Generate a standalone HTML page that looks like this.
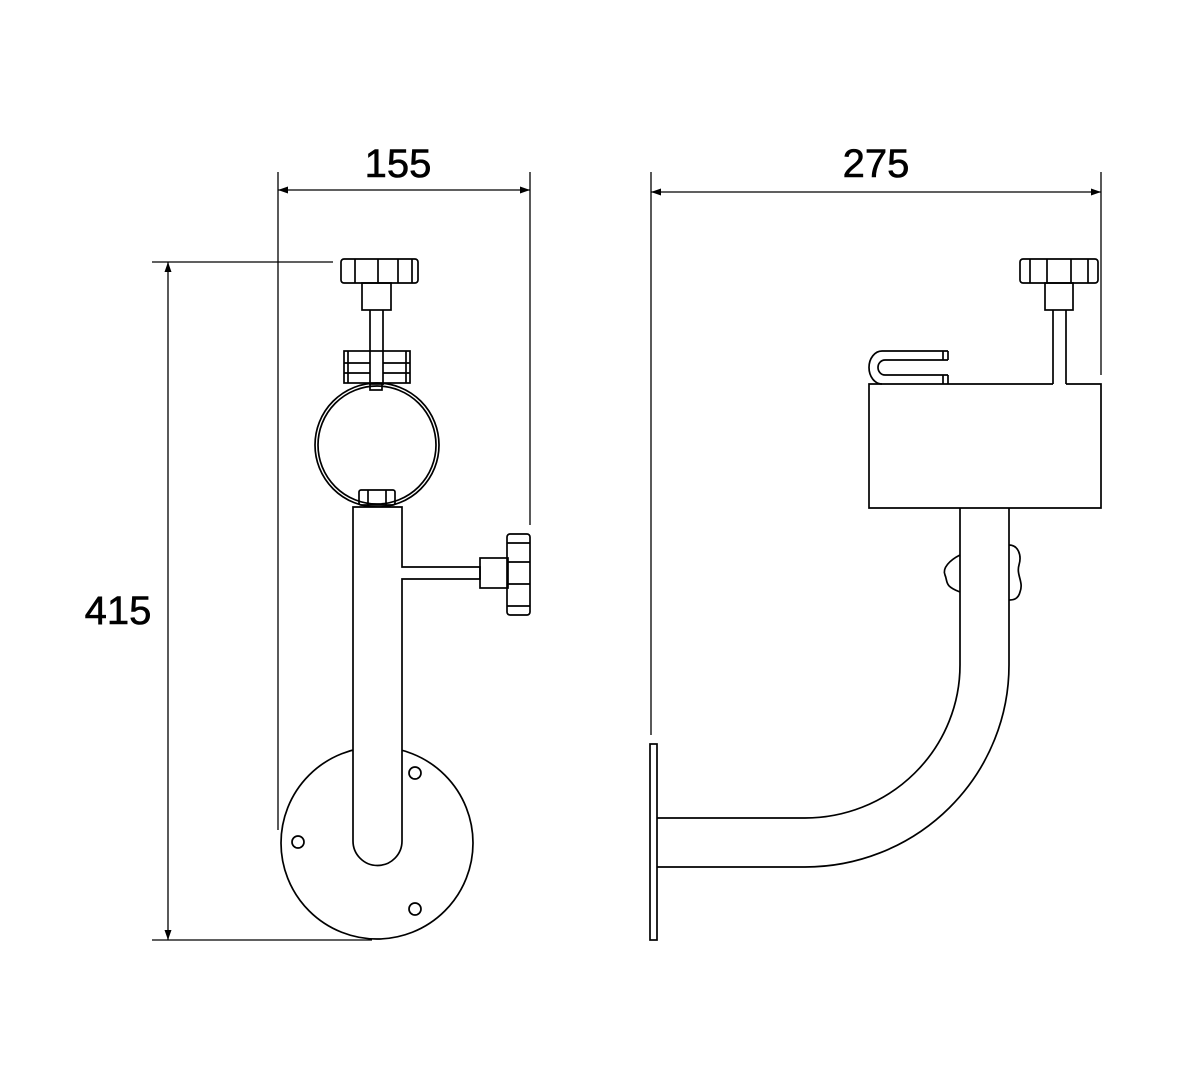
<!DOCTYPE html>
<html><head><style>html,body{margin:0;padding:0;background:#fff}</style></head>
<body>
<svg width="1200" height="1080" viewBox="0 0 1200 1080" xmlns="http://www.w3.org/2000/svg" fill="none" stroke="#000" stroke-width="1.7">
<defs><marker id="a" viewBox="0 0 10 10" refX="10" refY="5" markerWidth="10" markerHeight="10" markerUnits="userSpaceOnUse" orient="auto-start-reverse"><path d="M0,1.5 L10,5 L0,8.5 z" fill="#000" stroke="none"/></marker></defs>
<g font-family="Liberation Sans, sans-serif" font-size="40" fill="#000" stroke="#000" stroke-width="0.6">
<text x="398" y="177" text-anchor="middle">155</text>
<text x="876" y="177" text-anchor="middle">275</text>
<text x="118" y="624" text-anchor="middle">415</text>
</g>
<g stroke-width="1.3">
<line x1="278" y1="190" x2="530" y2="190" marker-start="url(#a)" marker-end="url(#a)"/>
<line x1="278" y1="172" x2="278" y2="830"/>
<line x1="530" y1="172" x2="530" y2="525"/>
<line x1="168" y1="262" x2="168" y2="940" marker-start="url(#a)" marker-end="url(#a)"/>
<line x1="152" y1="262" x2="333" y2="262"/>
<line x1="152" y1="940" x2="372" y2="940"/>
<line x1="651" y1="192" x2="1101" y2="192" marker-start="url(#a)" marker-end="url(#a)"/>
<line x1="651" y1="172" x2="651" y2="735"/>
<line x1="1101" y1="172" x2="1101" y2="375"/>
</g>
<!-- left view -->
<rect x="341" y="259" width="77" height="24" rx="3"/>
<path d="M355 259v24M378 259v24M398 259v24M412 259v24"/>
<rect x="362" y="283" width="29" height="27"/>
<path d="M370 310v75M383 310v75"/>
<rect x="344" y="351" width="66" height="32"/>
<path d="M348 351v32M406 351v32M344 363h26M383 363h27M344 373h26M383 373h27"/>
<circle cx="377" cy="445" r="62"/>
<circle cx="377" cy="445" r="59"/>
<rect x="370" y="384" width="12" height="6"/>
<rect x="359" y="490" width="36" height="15" rx="2"/>
<path d="M368 490v15M386 490v15"/>
<circle cx="377" cy="843" r="96" fill="#fff"/>
<path d="M353 507 V841 A24.5 24.5 0 0 0 402 841 V579 H480 V567 H402 V507 Z" fill="#fff"/>
<rect x="480" y="558" width="28" height="30"/>
<rect x="507" y="534" width="23" height="81" rx="3"/>
<path d="M507 543h23M507 562h23M507 584h23M507 606h23"/>
<circle cx="415" cy="773" r="6"/>
<circle cx="298" cy="842" r="6"/>
<circle cx="415" cy="909" r="6"/>
<!-- right view -->
<rect x="1020" y="259" width="78" height="24" rx="3"/>
<path d="M1030 259v24M1047 259v24M1071 259v24M1088 259v24"/>
<rect x="1045" y="283" width="28" height="27"/>
<path d="M1053 310v74M1066 310v74"/>
<path d="M1053 384 H869 V508 H1101 V384 H1066"/>
<path d="M948 351 H882 A13 16.5 0 0 0 882 384 M948 360 H885 A7 7.5 0 0 0 885 375 H948 M948 351v9M948 375v9M943 351v9M943 375v9"/>
<path d="M960 508 V665 A155 153 0 0 1 805 818 H657 M1009 508 V665 A204 202 0 0 1 805 867 H657"/>
<rect x="650" y="744" width="7" height="196"/>
<path d="M960 555 C950 560 942 568 945 575 C948 582 944 586 960 592"/>
<path d="M1009 545 C1018 545 1022 555 1019 565 C1016 575 1024 582 1020 592 C1018 600 1012 600 1009 600"/>
</svg>
</body></html>
